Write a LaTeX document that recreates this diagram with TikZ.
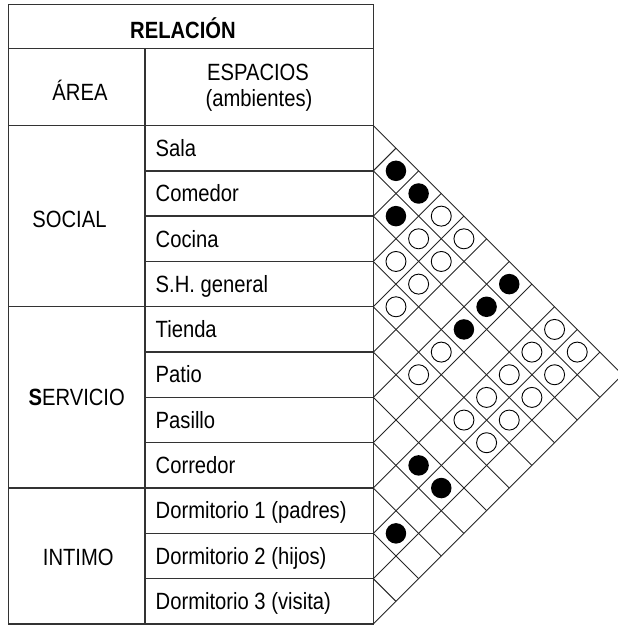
\documentclass[tikz,border=0pt]{standalone}
\usepackage{fontspec}
\setmainfont[FakeStretch=0.86]{Liberation Sans}
\begin{document}
\begin{tikzpicture}[x=1pt,y=-1pt,
  tline/.style={line width=1.4pt, draw=black!80},
  gline/.style={line width=0.9pt, draw=black!85},
  lbl/.style={inner sep=0pt, font=\fontsize{23.5}{26}\selectfont},
  fdot/.style={circle, fill=black, inner sep=0pt, minimum size=20.5pt},
  odot/.style={circle, draw=black, line width=0.9pt, inner sep=0pt, minimum size=20pt},
]
\useasboundingbox (0,0) rectangle (618,625);
\clip (0,0) rectangle (618,625);
\pgfmathsetmacro\XL{8.7}
\pgfmathsetmacro\XM{145}
\pgfmathsetmacro\XR{373.3}
\pgfmathsetmacro\YT{4.7}
\pgfmathsetmacro\YA{48.3}
\pgfmathsetmacro\Yz{125.5}
\pgfmathsetmacro\H{45.318}
\pgfmathsetmacro\YB{\Yz+11*\H}
% table
\draw[tline] (\XL,\YT) rectangle (\XR,\YB);
\draw[tline] (\XL,\YA) -- (\XR,\YA);
\draw[tline] (\XL,\Yz) -- (\XR,\Yz);
\draw[tline] (\XM,\YA) -- (\XM,\YB);
\foreach \k in {4,8} {
  \draw[tline] (\XL,{\Yz+\k*\H}) -- (\XR,{\Yz+\k*\H});
}
\foreach \k in {1,2,3,5,6,7,9,10} {
  \draw[tline] (\XM,{\Yz+\k*\H}) -- (\XR,{\Yz+\k*\H});
}
% header texts
\node[lbl, anchor=base] (rel) at (183,38.3) {\textbf{RELACIÓN}};
\node[lbl, anchor=base] (area) at (80,100) {ÁREA};
\node[lbl, anchor=base] (esp) at (258,80) {ESPACIOS};
\node[lbl, anchor=base] (amb) at (259,106) {(ambientes)};
% area texts
\node[lbl, anchor=base] (social) at (69.5,227.3) {SOCIAL};
\node[lbl, anchor=base] (servicio) at (76.7,405) {\textbf{S}ERVICIO};
\node[lbl, anchor=base] (intimo) at (78.3,565) {INTIMO};
% spaces
\foreach \k/\t in {0/Sala,1/Comedor,2/Cocina,3/S.H. general,4/Tienda,5/Patio,6/Pasillo,7/Corredor,8/Dormitorio 1 (padres),9/Dormitorio 2 (hijos),10/Dormitorio 3 (visita)} {
  \node[lbl, anchor=base west] (s\k) at (155.5,{\Yz+(\k+0.5)*\H+8.2}) {\t};
}
% relation grid
\foreach \k in {0,...,11} {
  \pgfmathsetmacro\yk{\Yz+\k*\H}
  \pgfmathsetmacro\dn{(11-\k)*\H/2}
  \pgfmathsetmacro\up{\k*\H/2}
  \draw[gline] (\XR,\yk) -- ++(\dn,\dn);
  \draw[gline] (\XR,\yk) -- ++(\up,-\up);
}
% filled dots
\foreach \i/\j in {0/1,0/2,1/2,0/6,1/6,2/6,6/8,6/9,8/9} {
  \node[fdot] (f\i-\j) at ({\XR+(\j-\i)*\H/2},{\Yz+(\i+\j+1)*\H/2}) {};
}
% open dots
\foreach \i/\j in {0/3,1/3,0/4,2/3,1/4,2/4,3/4,0/8,3/6,1/8,0/9,4/6,2/8,1/9,3/8,2/9,4/8,3/9,4/9} {
  \node[odot, fill=white] (o\i-\j) at ({\XR+(\j-\i)*\H/2},{\Yz+(\i+\j+1)*\H/2}) {};
}
\end{tikzpicture}
\end{document}
